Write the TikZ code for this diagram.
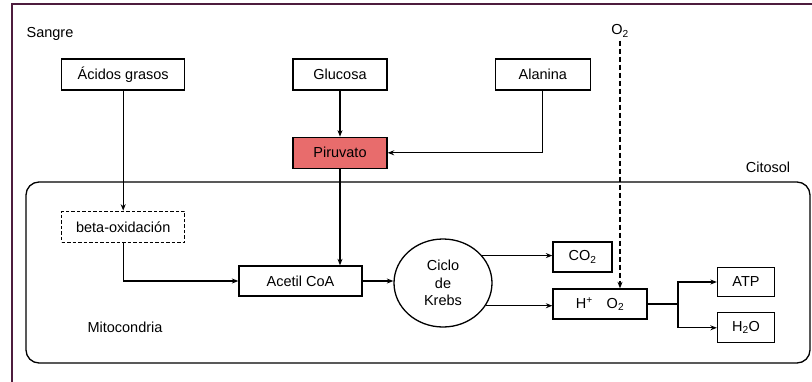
\documentclass[tikz,border=0pt]{standalone}
\usepackage{fontspec}
\setmainfont{Liberation Sans}
\usepackage{tikz}
\usetikzlibrary{positioning, arrows.meta, shapes.geometric}
\definecolor{marco}{RGB}{78,28,62}
\definecolor{rojopir}{RGB}{232,108,108}
\tikzset{
    >={Stealth[length=6.5pt,width=5pt]},
    every node/.style={font=\fontsize{14.5}{17.5}\selectfont},
    caja/.style={draw, line width=1.3pt, minimum height=31pt, inner sep=0pt},
    flecha/.style={->, line width=1.1pt},
}

\begin{document}
\begin{tikzpicture}[x=1pt, y=-1pt, node distance=107pt]
    \useasboundingbox (0,0) rectangle (812,381);
    \clip (0,0) rectangle (812,381);
    % marco exterior y mitocondria
    \draw[marco, line width=2.2pt] (12,4) rectangle (830,400);
    \draw[line width=1.3pt, rounded corners=13pt] (26,182) rectangle (810,363);

    \node (sangre)  at (50,34)   {Sangre};
    \node (citosol) at (768,167) {Citosol};
    \node (mito)    at (125,327) {Mitocondria};
    \node (oxi)     at (620,31)  {O\textsubscript{2}};

    \node[caja, minimum width=94pt]  (glu) at (340,74.5) {Glucosa};
    \node[caja, minimum width=123pt] (acidos) [left=of glu] {Ácidos grasos};
    \node[caja, minimum width=95pt]  (ala) [right=of glu] {Alanina};
    \node[caja, minimum width=94pt, fill=rojopir] (piru) [below=46pt of glu] {Piruvato};
    \node[caja, minimum width=123pt, dashed, dash pattern=on 3.5pt off 2pt] (beta) [below=120pt of acidos] {beta-oxidación};
    \node[caja, minimum width=123pt, minimum height=30pt] (acetil) at (300.5,281) {Acetil CoA};
    \node[draw, ellipse, line width=1.3pt, minimum width=98pt, minimum height=88pt,
          inner sep=0pt, align=center] (krebs) at (443,283) {Ciclo\\de\\Krebs};
    \node[caja, minimum width=59pt, minimum height=30pt] (co2) at (582.5,257) {CO\textsubscript{2}};
    \node[caja, minimum width=94pt, minimum height=30pt] (hb) at (600,304)
        {H\textsuperscript{+}\hspace{14pt}O\textsubscript{2}};
    \node[caja, minimum width=57pt, minimum height=29pt] (atp) at (746,282) {ATP};
    \node[caja, minimum width=57pt, minimum height=30pt] (h2o) [below=15pt of atp] {H\textsubscript{2}O};
    \coordinate (rama) at (678,304);

    \path[flecha] (glu) edge (piru)
                  (acidos) edge (beta);
    \draw[flecha] (ala.south) |- (piru.east);
    \draw[flecha] (piru.south) -- (piru.south |- acetil.north);
    \draw[flecha] (beta.south) |- (acetil.west);
    \draw[flecha] (acetil.east) -- (acetil.east -| krebs.west);
    \draw[flecha] (krebs.35) -- (krebs.35 -| co2.west);
    \draw[flecha] (krebs.-28) -- (krebs.-28 -| hb.west);
    \draw[flecha, line width=1.6pt, dash pattern=on 5pt off 3pt] (oxi.south) -- (oxi.south |- hb.north);
    \draw[line width=1.1pt] (hb.east) -- (rama);
    \draw[flecha] (rama) |- (atp.west);
    \draw[flecha] (rama) |- (h2o.west);
\end{tikzpicture}
\end{document}
